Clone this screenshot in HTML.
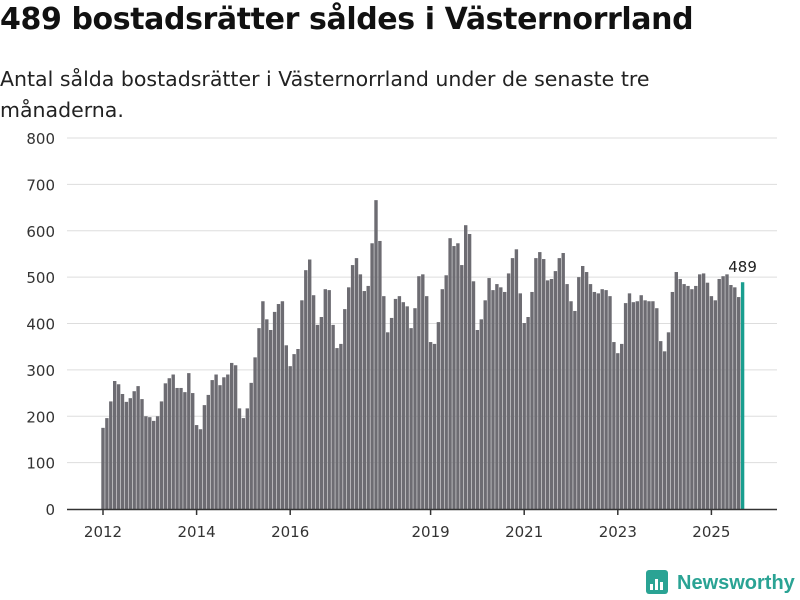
<!DOCTYPE html>
<html><head><meta charset="utf-8"><style>
body{margin:0;background:#fff;font-family:"DejaVu Sans","Liberation Sans",sans-serif;}
#wrap{position:relative;width:800px;height:600px;overflow:hidden;}
h1{position:absolute;left:0;top:2px;margin:0;font-size:30px;font-weight:bold;color:#111;white-space:nowrap;letter-spacing:-0.4px;}
p.sub{position:absolute;left:0;top:64px;margin:0;font-size:20.5px;line-height:31px;color:#222;width:700px;}
svg{position:absolute;left:0;top:0;font-family:"DejaVu Sans","Liberation Sans",sans-serif;}
</style></head><body>
<div id="wrap">
<h1>489 bostadsrätter såldes i Västernorrland</h1>
<p class="sub">Antal sålda bostadsrätter i Västernorrland under de senaste tre månaderna.</p>
<svg id="chart" width="800" height="600"></svg>
</div>
<script>
const values = [175,196,232,276,269,248,231,239,254,265,237,200,198,190,200,232,271,282,290,261,261,252,293,250,181,172,224,246,278,290,267,284,290,315,
310,217,196,217,272,327,390,448,409,386,425,442,448,353,308,334,345,450,515,538,461,397,414,474,472,397,347,356,431,478,526,541,506,470,481,
573,666,578,459,381,412,453,459,446,437,390,433,502,506,459,360,356,403,474,504,584,567,573,526,612,593,491,386,409,450,498,472,485,478,468,
508,541,560,465,401,414,468,541,554,539,493,496,513,541,552,485,448,427,500,524,511,485,468,465,474,472,459,360,336,356,444,465,
446,448,461,450,448,448,433,362,340,381,468,511,496,485,481,474,481,506,508,488,459,450,496,502,506,483,478,457,489];
const startYear = 2012;
const yTicks = [0,100,200,300,400,500,600,700,800];
const xTickYears = [2012,2014,2016,2019,2021,2023,2025];
const NS="http://www.w3.org/2000/svg";
const svg=document.getElementById('chart');
const y0=509, yTop=138, yMax=800;
const yS=v=>y0-(v/yMax)*(y0-yTop);
const step=3.9, x0=103;
const xS=i=>x0+i*step;
function mk(t,a){const e=document.createElementNS(NS,t);for(const k in a)e.setAttribute(k,a[k]);svg.appendChild(e);return e;}
yTicks.forEach(v=>{
  if(v>0){const g=mk('line',{x1:67,x2:777,y1:yS(v),y2:yS(v),stroke:'#dddddd','stroke-width':1});
  
  }
  const t=mk('text',{x:55,y:yS(v)+6,'text-anchor':'end','font-size':15,fill:'#333'});
  t.textContent=v;
  
  
});
values.forEach((v,i)=>{
  const last=i===values.length-1;
  const r=mk('rect',{x:xS(i)-1.7,y:yS(v),width:3.4,height:y0-yS(v),fill:last?'#1a9e8f':'#6d6c72'});
  
  
});
const lab=mk('text',{x:xS(values.length-1),y:yS(values[values.length-1])-10,'text-anchor':'middle','font-size':15,fill:'#222'});
lab.textContent=values[values.length-1];


const ax=mk('line',{x1:67,x2:777,y1:y0+0.5,y2:y0+0.5,stroke:'#333','stroke-width':1.5});


xTickYears.forEach(yr=>{
  const x=xS((yr-startYear)*12);
  const tk=mk('line',{x1:x,x2:x,y1:y0,y2:y0+6,stroke:'#333','stroke-width':1.5});
  
  
  const t=mk('text',{x:x,y:y0+28,'text-anchor':'middle','font-size':15,fill:'#333'});
  t.textContent=yr;
  
  
});
const g=document.createElementNS(NS,'g');svg.appendChild(g);


const lr=document.createElementNS(NS,'rect');
[['x',646],['y',570],['width',22],['height',24],['rx',3],['fill','#2aa394']].forEach(a=>lr.setAttribute(a[0],a[1]));g.appendChild(lr);
[[650,584,3,6],[655,579,3,11],[660,582,3,8]].forEach(b=>{const e=document.createElementNS(NS,'rect');e.setAttribute('x',b[0]);e.setAttribute('y',b[1]);e.setAttribute('width',b[2]);e.setAttribute('height',b[3]);e.setAttribute('fill','#fff');g.appendChild(e);});
const lt=document.createElementNS(NS,'text');
lt.setAttribute('x',677);lt.setAttribute('y',589);lt.setAttribute('font-size',20);lt.setAttribute('font-weight','bold');lt.setAttribute('fill','#2aa394');
lt.setAttribute('font-family','Liberation Sans, sans-serif');
lt.textContent='Newsworthy';g.appendChild(lt);
</script>
</body></html>
